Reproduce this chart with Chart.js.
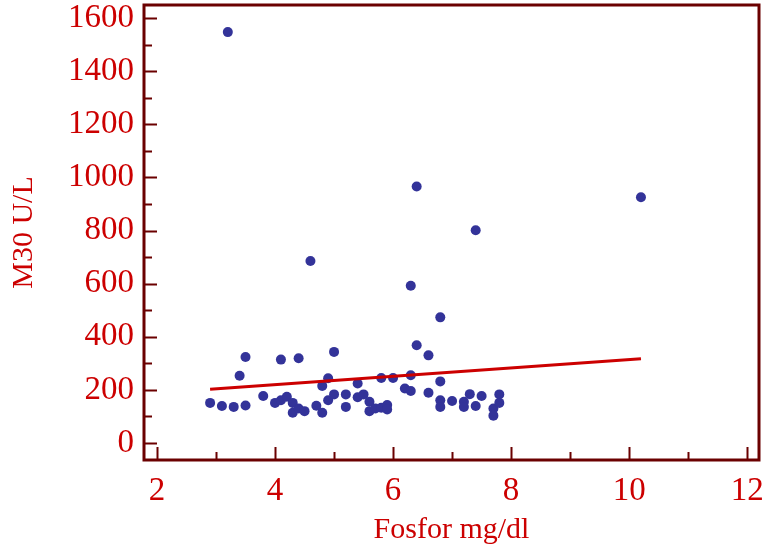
<!DOCTYPE html>
<html>
<head>
<meta charset="utf-8">
<script src="https://cdn.jsdelivr.net/npm/chart.js@4"></script>
<style>
  html, body { margin: 0; padding: 0; background: #fff; }
  #wrap { width: 765px; height: 554px; }
</style>
</head>
<body>
<div id="wrap"><canvas id="chart" width="765" height="554"></canvas></div>
<script>
// Fosfor (mg/dl) vs M30 (U/L)
const fosfor = [
  3.2, 4.6, 6.4, 7.4, 6.3, 10.2, 6.8, 6.4, 6.6,
  2.9, 3.1, 3.3, 3.5, 3.4, 3.5, 3.8, 4.1, 4.4, 4.0, 4.1, 4.2, 4.3, 4.3,
  4.4, 4.5, 4.7, 4.8, 4.8, 4.9, 5.0, 4.9, 5.0, 5.2, 5.2, 5.4, 5.4, 5.5,
  5.6, 5.6, 5.7, 5.8, 5.9, 5.9, 5.8, 6.0, 6.3, 6.2, 6.3, 6.6, 6.8, 6.8,
  6.8, 7.0, 7.2, 7.2, 7.3, 7.4, 7.5, 7.7, 7.7, 7.8, 7.8
];
const m30 = [
  1547, 685, 966, 801, 592, 925, 473, 368, 330,
  151, 139, 136, 141, 253, 324, 177, 314, 319, 151, 161, 174, 151, 114,
  130, 120, 140, 114, 215, 244, 343, 161, 183, 183, 136, 224, 172, 183,
  155, 120, 130, 133, 143, 126, 245, 245, 255, 205, 196, 189, 232, 161,
  136, 158, 155, 136, 184, 139, 177, 130, 103, 183, 151
];
// regression line end points
const fitX = [2.9, 10.2];
const fitY = [202, 317];

const xTicks = [2, 4, 6, 8, 10, 12];
const xMinor = [3, 5, 7, 9, 11];
const yTicks = [0, 200, 400, 600, 800, 1000, 1200, 1400, 1600];
const yMinor = [100, 300, 500, 700, 900, 1100, 1300, 1500];

const RED = "#cc0000";
const FRAME = "#6b0000";
const DOT = "#333399";
const FONT = "'Liberation Serif', 'Times New Roman', serif";

let points = [];
for (let i = 0; i < fosfor.length; i++) {
  points.push({ x: fosfor[i], y: m30[i] });
}
let fitLine = fitX.map((v, i) => ({ x: v, y: fitY[i] }));

// frame + inward tick marks
const framePlugin = {
  id: "frame",
  afterDatasetsDraw(chart) {
    const ctx = chart.ctx;
    const a = chart.chartArea;
    const xs = chart.scales.x;
    const ys = chart.scales.y;
    ctx.save();
    ctx.strokeStyle = FRAME;
    ctx.lineWidth = 2;
    ctx.beginPath();
    xTicks.forEach((v) => {
      const p = Math.round(xs.getPixelForValue(v)) + 0.5;
      ctx.moveTo(p, a.bottom);
      ctx.lineTo(p, a.bottom - 13);
    });
    xMinor.forEach((v) => {
      const p = Math.round(xs.getPixelForValue(v)) + 0.5;
      ctx.moveTo(p, a.bottom);
      ctx.lineTo(p, a.bottom - 8);
    });
    yTicks.forEach((v) => {
      const p = Math.round(ys.getPixelForValue(v)) + 0.5;
      ctx.moveTo(a.left, p);
      ctx.lineTo(a.left + 13, p);
    });
    yMinor.forEach((v) => {
      const p = Math.round(ys.getPixelForValue(v)) + 0.5;
      ctx.moveTo(a.left, p);
      ctx.lineTo(a.left + 8, p);
    });
    ctx.stroke();
    ctx.lineWidth = 3;
    ctx.strokeRect(a.left, a.top, a.right - a.left, a.bottom - a.top);
    ctx.restore();
  },
};

new Chart(document.getElementById("chart"), {
  type: "scatter",
  data: {
    datasets: [
      {
        label: "M30",
        data: points,
        backgroundColor: DOT,
        borderColor: DOT,
        borderWidth: 0,
        pointRadius: 5,
      },
      {
        label: "fit",
        data: fitLine,
        showLine: true,
        borderColor: RED,
        borderWidth: 3,
        pointRadius: 0,
        order: -1,
      },
    ],
  },
  options: {
    responsive: false,
    animation: false,
    layout: { padding: { top: 4, right: 6, left: 0, bottom: 0 } },
    plugins: {
      legend: { display: false },
      tooltip: { enabled: false },
    },
    scales: {
      x: {
        type: "linear",
        min: 1.78,
        max: 12.2,
        afterBuildTicks: (s) => { s.ticks = xTicks.map((v) => ({ value: v })); },
        afterFit: (s) => {
          s.height = 94;
          s.paddingLeft = 0;
          s.paddingRight = 0;
        },
        grid: { display: false, drawTicks: false },
        border: { display: false },
        ticks: {
          color: RED,
          font: { family: FONT, size: 33 },
          padding: 12,
          maxRotation: 0,
          callback: (v) => String(v),
        },
        title: {
          display: true,
          text: "Fosfor mg/dl",
          color: RED,
          font: { family: FONT, size: 30 },
          padding: { top: 0, bottom: 6 },
        },
      },
      y: {
        type: "linear",
        min: -64,
        max: 1649,
        afterBuildTicks: (s) => { s.ticks = yTicks.map((v) => ({ value: v })); },
        afterFit: (s) => {
          s.width = 144;
          s.paddingTop = 0;
          s.paddingBottom = 0;
        },
        grid: { display: false, drawTicks: false },
        border: { display: false },
        ticks: {
          color: RED,
          font: { family: FONT, size: 33 },
          padding: 10,
          callback: (v) => String(v),
        },
        title: {
          display: true,
          text: "M30 U/L",
          color: RED,
          font: { family: FONT, size: 30 },
          padding: { top: 6, bottom: 0 },
        },
      },
    },
  },
  plugins: [framePlugin],
});
</script>
</body>
</html>
